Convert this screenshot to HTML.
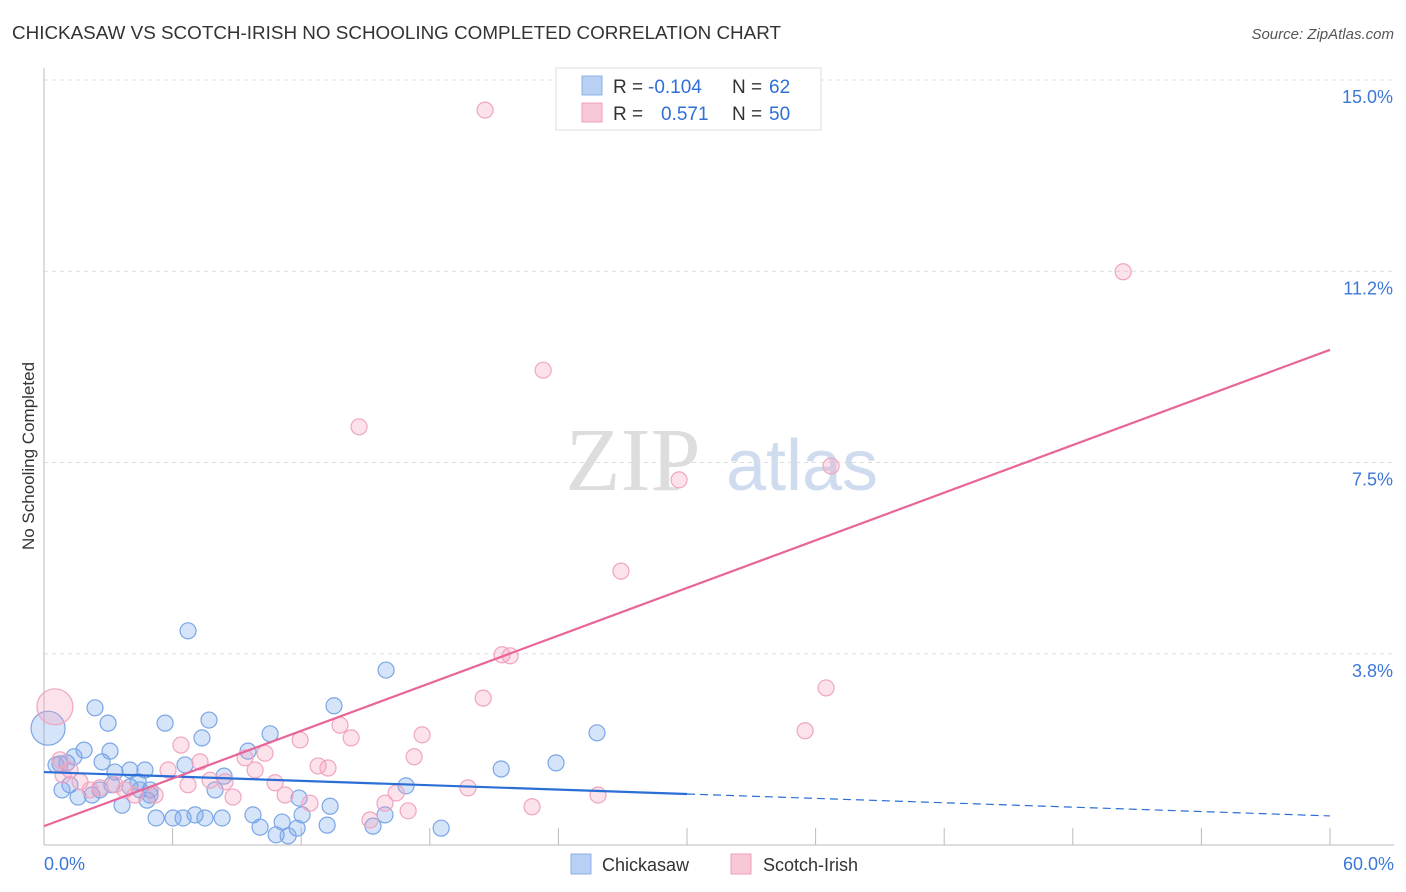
<!DOCTYPE html>
<html><head><meta charset="utf-8"><style>
body{margin:0;background:#fff;font-family:"Liberation Sans",sans-serif}
svg{display:block}
</style></head><body>
<svg id="chart" width="1406" height="892">
<text x="12" y="39" font-size="18" fill="#333" textLength="769" lengthAdjust="spacingAndGlyphs">CHICKASAW VS SCOTCH-IRISH NO SCHOOLING COMPLETED CORRELATION CHART</text>
<text x="1394" y="39" font-size="15" fill="#555" font-style="italic" text-anchor="end">Source: ZipAtlas.com</text>
<text x="34" y="456" font-size="17" fill="#333" text-anchor="middle" transform="rotate(-90 34 456)">No Schooling Completed</text>
<g><text x="633" y="490" font-size="90" fill="#ddd" font-family="Liberation Serif" text-anchor="middle">ZIP</text><text x="802" y="490" font-size="72" fill="#cfdcf0" text-anchor="middle">atlas</text></g>
<g id="grid"></g><g id="pts"></g><g id="lines"></g>
<g>
<rect x="556" y="68" width="265" height="62" fill="#fff" stroke="#ddd"/>
<rect x="582" y="76" width="20" height="19" fill="#b8d0f4" stroke="#8db0e6"/>
<rect x="582" y="103" width="20" height="19" fill="#f9c8d6" stroke="#f0a0bb"/>
<text y="93" font-size="19" fill="#333"><tspan x="613">R =</tspan><tspan x="648" fill="#2f6fd8">-0.104</tspan><tspan x="732">N =</tspan><tspan x="769" fill="#2f6fd8">62</tspan></text>
<text y="120" font-size="19" fill="#333"><tspan x="613">R =</tspan><tspan x="661" fill="#2f6fd8">0.571</tspan><tspan x="732">N =</tspan><tspan x="769" fill="#2f6fd8">50</tspan></text>
</g>
<g>
<rect x="571" y="854" width="20" height="20" fill="#b8d0f4" stroke="#8db0e6"/><text x="602" y="871" font-size="18" fill="#333">Chickasaw</text>
<rect x="731" y="854" width="20" height="20" fill="#f9c8d6" stroke="#f0a0bb"/><text x="763" y="871" font-size="18" fill="#333">Scotch-Irish</text>
</g>
</svg>
<script>
const yTicks=[15,11.25,7.5,3.75];
const yTickLabels=["15.0%","11.2%","7.5%","3.8%"];
const xTickLabels=["0.0%","60.0%"];
const blueX=[0.19,0.56,1.07,0.84,1.40,1.87,1.59,2.38,2.24,2.99,3.08,2.71,3.64,3.31,4.01,4.01,4.39,4.71,4.81,4.95,5.23,5.65,6.02,6.49,6.58,6.72,7.05,7.37,7.51,7.70,7.98,8.31,8.40,9.52,9.75,10.08,10.55,10.83,11.11,11.39,11.81,11.90,12.04,13.21,13.35,13.53,15.35,15.91,15.96,16.89,18.53,21.33,23.89,25.80,0.75,4.48,2.61,3.17,4.95,1.21];
const blueY=[2.29,1.57,1.61,1.08,1.73,1.86,0.94,2.69,0.98,2.39,1.84,1.63,0.78,1.43,1.47,1.14,1.24,1.47,0.88,1.08,0.53,2.39,0.53,0.53,1.57,4.20,0.59,2.10,0.53,2.45,1.08,0.53,1.35,1.84,0.59,0.35,2.18,0.20,0.45,0.18,0.33,0.92,0.59,0.39,0.76,2.73,0.37,0.59,3.43,1.16,0.33,1.49,1.61,2.20,1.59,1.08,1.08,1.18,0.98,1.18];
const pinkX=[0.51,0.75,1.21,1.68,2.15,2.61,3.31,3.78,4.25,5.18,5.79,6.39,6.72,7.28,7.75,8.45,8.82,9.38,9.85,10.31,10.78,11.25,11.95,12.41,12.79,13.25,13.81,14.33,14.70,15.21,15.91,16.43,16.99,17.27,17.64,19.78,20.49,20.58,21.37,21.75,22.77,23.29,25.85,26.92,29.63,35.51,36.49,36.72,50.35,0.89];
const pinkY=[2.71,1.67,1.47,1.24,1.08,1.12,1.18,1.08,0.98,0.98,1.47,1.96,1.18,1.63,1.27,1.24,0.94,1.71,1.47,1.80,1.22,0.98,2.06,0.82,1.55,1.51,2.35,2.10,8.20,0.49,0.82,1.02,0.67,1.73,2.16,1.12,2.88,14.41,3.73,3.71,0.75,9.31,0.98,5.37,7.16,2.24,3.08,7.43,11.24,1.37];
const blueLine=[1.43,0.57];
const pinkLine=[0.37,9.71];
const NS="http://www.w3.org/2000/svg";
const sx=v=>44+v/60*1286, sy=v=>845-v/15*765;
function mk(t,a,p){const e=document.createElementNS(NS,t);for(const k in a)e.setAttribute(k,a[k]);p.appendChild(e);return e;}
const g=document.getElementById('grid');
yTicks.forEach((t,i)=>{
 const l=mk('line',{x1:44,x2:1394,y1:sy(t),y2:sy(t),stroke:'#ddd','stroke-dasharray':'4,4'},g);
 
 
 const tx=mk('text',{x:1393,y:sy(t)+23,'font-size':18,fill:'#3b78d8','text-anchor':'end'},g);tx.textContent=yTickLabels[i];
 
 
});
mk('line',{x1:44,x2:44,y1:68,y2:845,stroke:'#bbb'},g);
mk('line',{x1:44,x2:1394,y1:845,y2:845,stroke:'#bbb'},g);
for(let i=1;i<=10;i++){const x=sx(i*6);mk('line',{x1:x,x2:x,y1:828,y2:845,stroke:'#bbb'},g);}
[[0,'start',44],[60,'end',1394]].forEach((d,i)=>{const tx=mk('text',{x:d[2],y:870,'font-size':18,fill:'#3b78d8','text-anchor':d[1]},g);tx.textContent=xTickLabels[i];
 
 });
const p=document.getElementById('pts');
blueX.forEach((x,i)=>{const c=mk('circle',{cx:sx(x),cy:sy(blueY[i]),r:i==0?17:8,fill:'rgba(120,165,235,0.3)',stroke:'#7aa6e6','stroke-width':1.2},p);
 
 });
pinkX.forEach((x,i)=>{const c=mk('circle',{cx:sx(x),cy:sy(pinkY[i]),r:i==0?18:8,fill:'rgba(245,160,190,0.3)',stroke:'#f0a5c0','stroke-width':1.2},p);
 
 });
const L=document.getElementById('lines');
const bm=(blueLine[0]+blueLine[1])/2;
let a=mk('line',{x1:sx(0),y1:sy(blueLine[0]),x2:sx(30),y2:sy(bm),stroke:'#2b6fd6','stroke-width':2.2},L);


a=mk('line',{x1:sx(30),y1:sy(bm),x2:sx(60),y2:sy(blueLine[1]),stroke:'#2b6fd6','stroke-width':1.2,'stroke-dasharray':'8,5'},L);


a=mk('line',{x1:sx(0),y1:sy(pinkLine[0]),x2:sx(60),y2:sy(pinkLine[1]),stroke:'#e8659a','stroke-width':2.2},L);


</script>
</body></html>
